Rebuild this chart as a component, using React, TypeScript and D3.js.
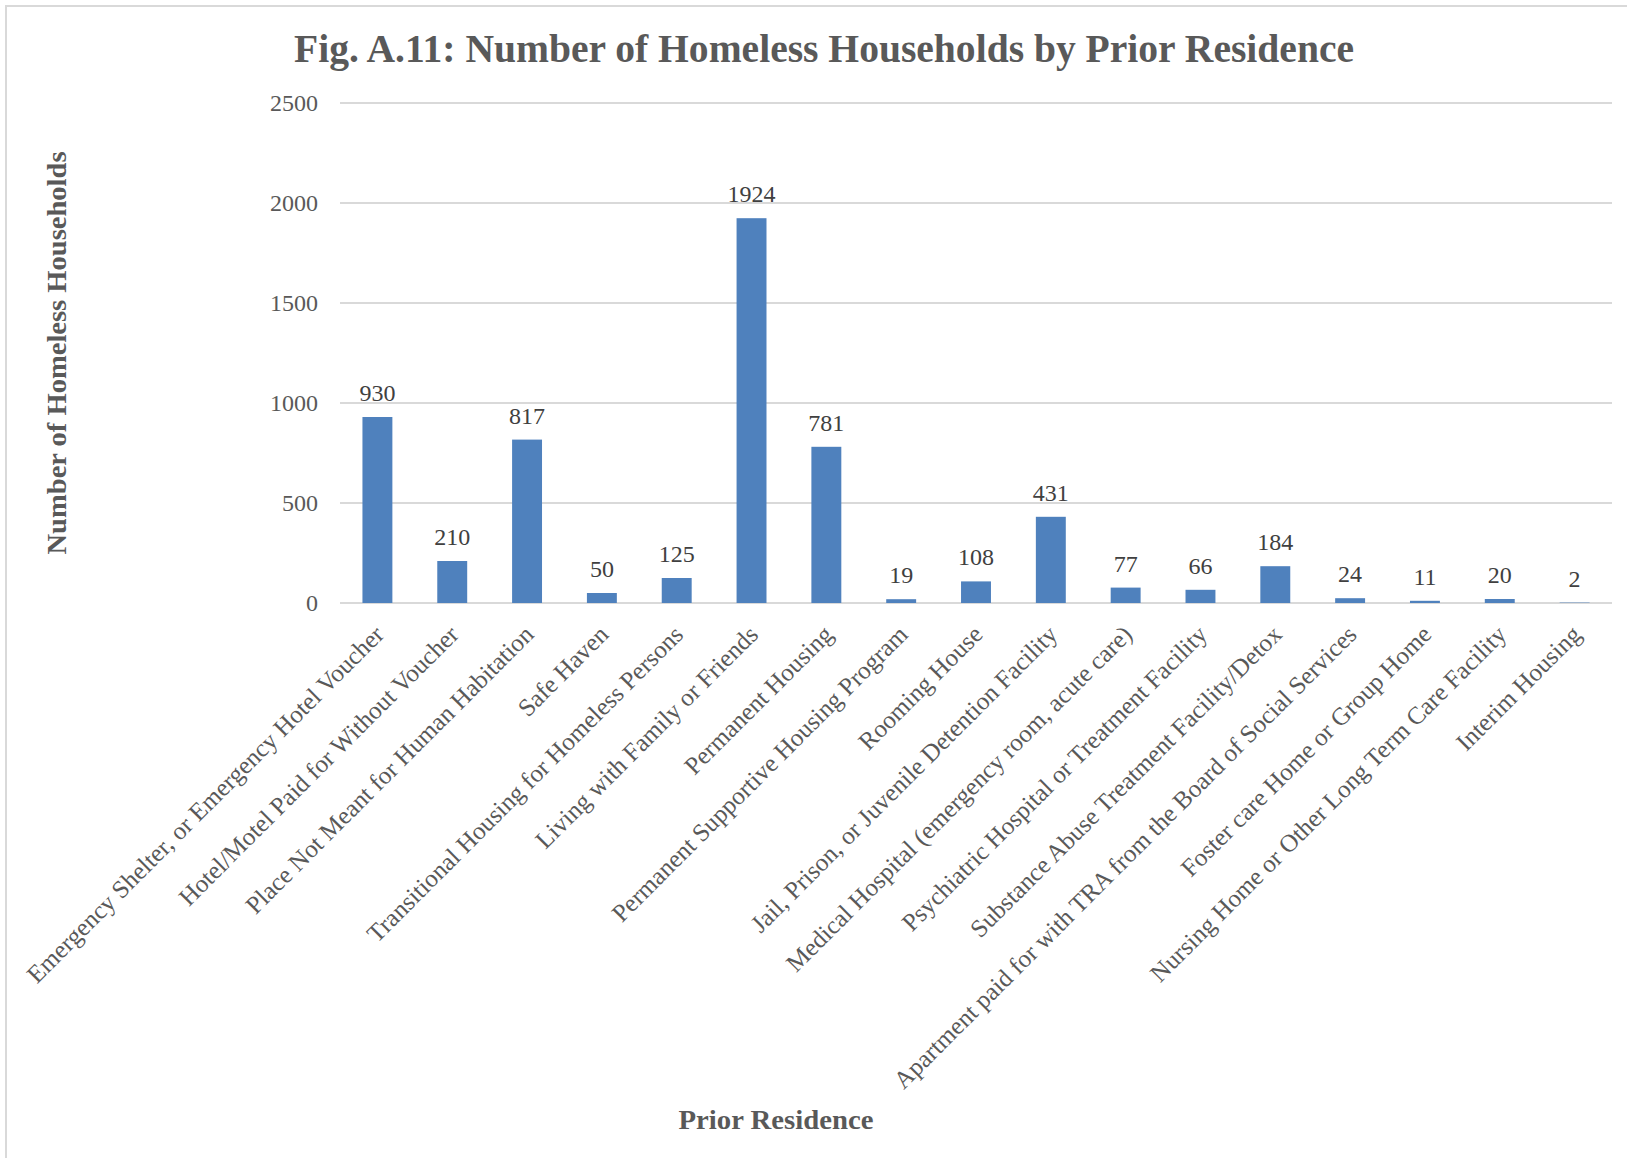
import { useEffect, useRef } from 'react';
import * as d3 from 'd3';

const categories = [
	'Emergency Shelter, or Emergency Hotel Voucher',
	'Hotel/Motel Paid for Without Voucher',
	'Place Not Meant for Human Habitation',
	'Safe Haven',
	'Transitional Housing for Homeless Persons',
	'Living with Family or Friends',
	'Permanent Housing',
	'Permanent Supportive Housing Program',
	'Rooming House',
	'Jail, Prison, or Juvenile Detention Facility',
	'Medical Hospital (emergency room, acute care)',
	'Psychiatric Hospital or Treatment Facility',
	'Substance Abuse Treatment Facility/Detox',
	'Apartment paid for with TRA from the Board of Social Services',
	'Foster care Home or Group Home',
	'Nursing Home or Other Long Term Care Facility',
	'Interim Housing',
];

const households = [930, 210, 817, 50, 125, 1924, 781, 19, 108, 431, 77, 66, 184, 24, 11, 20, 2];

const yTicks = [0, 500, 1000, 1500, 2000, 2500];

const title = 'Fig. A.11: Number of Homeless Households by Prior Residence';
const yTitle = 'Number of Homeless Households';
const xTitle = 'Prior Residence';

const App = () => {
	const svgRef = useRef<SVGSVGElement>(null);
	const width = 1627;
	const height = 1158;
	const textColor = '#595959';
	const barColor = '#4f81bd';
	const font = '"Liberation Serif", "Times New Roman", serif';

	useEffect(() => {
		if (!svgRef.current) return;
		const svg = d3.select(svgRef.current);
		svg.selectAll('*').remove();

		// chart frame (only left/top edges are visible in the crop)
		svg
			.append('rect')
			.attr('x', 6)
			.attr('y', 6)
			.attr('width', width + 20)
			.attr('height', height + 20)
			.attr('fill', '#ffffff')
			.attr('stroke', '#d9d9d9')
			.attr('stroke-width', 2);

		const plot = { left: 340, right: 1612, top: 103, bottom: 603 };

		const xScale = d3
			.scaleBand<string>()
			.domain(categories)
			.range([plot.left, plot.right])
			.paddingInner(0.6)
			.paddingOuter(0.3);

		const yScale = d3
			.scaleLinear()
			.domain([0, 2500])
			.range([plot.bottom, plot.top]);

		// gridlines
		svg
			.append('g')
			.selectAll('line')
			.data(yTicks)
			.enter()
			.append('line')
			.attr('x1', plot.left)
			.attr('x2', plot.right)
			.attr('y1', (d) => yScale(d))
			.attr('y2', (d) => yScale(d))
			.attr('stroke', '#d9d9d9')
			.attr('stroke-width', 2);

		// y tick labels
		svg
			.append('g')
			.selectAll('text')
			.data(yTicks)
			.enter()
			.append('text')
			.attr('x', 318)
			.attr('y', (d) => yScale(d))
			.attr('dy', '0.33em')
			.attr('text-anchor', 'end')
			.attr('font-family', font)
			.attr('font-size', 24)
			.attr('fill', textColor)
			.text((d) => d);

		// bars
		svg
			.append('g')
			.selectAll('rect')
			.data(households)
			.enter()
			.append('rect')
			.attr('x', (_, i) => xScale(categories[i]) as number)
			.attr('y', (d) => yScale(d))
			.attr('width', xScale.bandwidth())
			.attr('height', (d) => plot.bottom - yScale(d))
			.attr('fill', barColor);

		// data labels
		svg
			.append('g')
			.selectAll('text')
			.data(households)
			.enter()
			.append('text')
			.attr('x', (_, i) => (xScale(categories[i]) as number) + xScale.bandwidth() / 2)
			.attr('y', (d) => yScale(d) - 16)
			.attr('text-anchor', 'middle')
			.attr('font-family', font)
			.attr('font-size', 24)
			.attr('fill', '#404040')
			.text((d) => d);

		// category labels, rotated
		svg
			.append('g')
			.selectAll('text')
			.data(categories)
			.enter()
			.append('text')
			.attr(
				'transform',
				(d) =>
					`translate(${(xScale(d) as number) + xScale.bandwidth() / 2 + 8},${plot.bottom + 33}) rotate(-45)`,
			)
			.attr('text-anchor', 'end')
			.attr('font-family', font)
			.attr('font-size', 25)
			.attr('fill', textColor)
			.text((d) => d);

		// title
		svg
			.append('text')
			.attr('x', 294)
			.attr('y', 62)
			.attr('textLength', 1060)
			.attr('lengthAdjust', 'spacingAndGlyphs')
			.attr('font-family', font)
			.attr('font-weight', 'bold')
			.attr('font-size', 40)
			.attr('fill', textColor)
			.text(title);

		// y axis title
		svg
			.append('text')
			.attr('transform', 'translate(66,353) rotate(-90)')
			.attr('text-anchor', 'middle')
			.attr('textLength', 403)
			.attr('lengthAdjust', 'spacingAndGlyphs')
			.attr('font-family', font)
			.attr('font-weight', 'bold')
			.attr('font-size', 28)
			.attr('fill', textColor)
			.text(yTitle);

		// x axis title
		svg
			.append('text')
			.attr('x', 776)
			.attr('y', 1129)
			.attr('text-anchor', 'middle')
			.attr('textLength', 195)
			.attr('lengthAdjust', 'spacingAndGlyphs')
			.attr('font-family', font)
			.attr('font-weight', 'bold')
			.attr('font-size', 28)
			.attr('fill', textColor)
			.text(xTitle);
	}, []);

	return (
		<div style={{ position: 'absolute', left: 0, top: 0 }}>
			<svg ref={svgRef} width={width} height={height} style={{ display: 'block' }}></svg>
		</div>
	);
};

export default App;
